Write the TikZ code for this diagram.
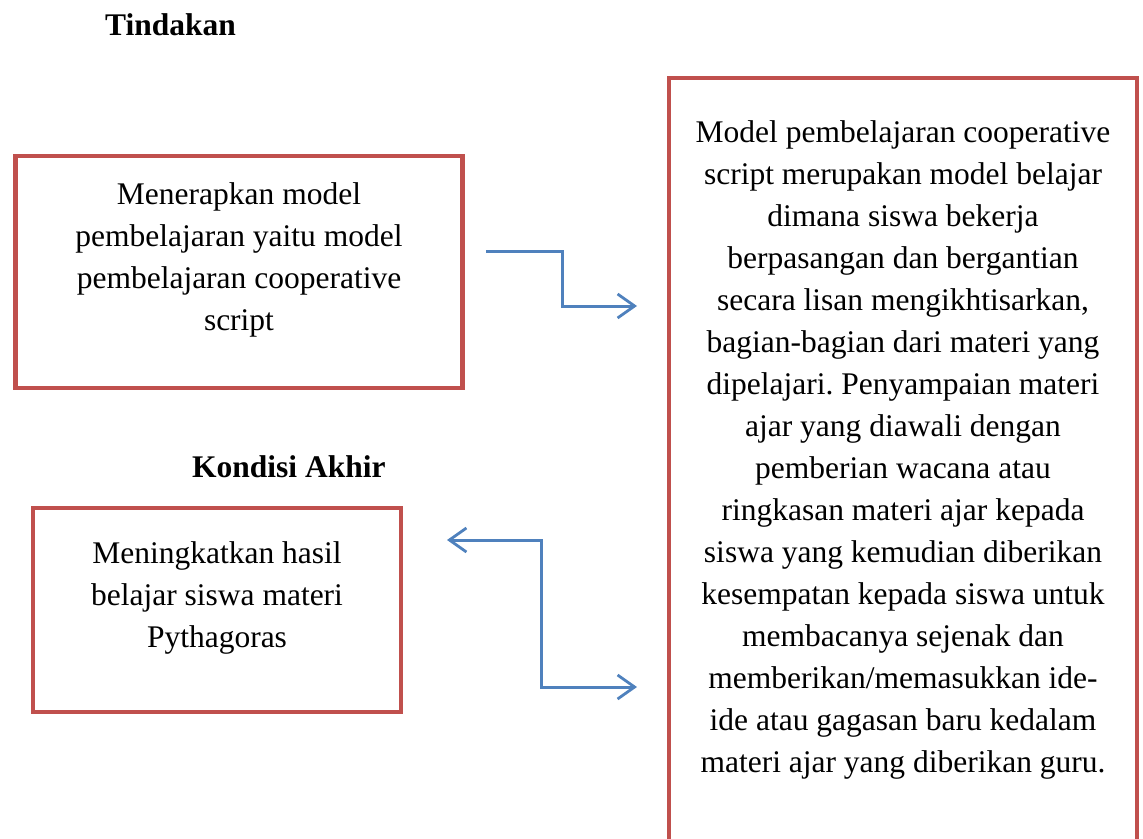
\documentclass[tikz,border=0pt]{standalone}
\usepackage{fontspec}
\setmainfont{Liberation Serif}
\usetikzlibrary{arrows.meta}
\definecolor{boxred}{HTML}{C0504D}
\definecolor{arrowblue}{HTML}{4F81BD}
\frenchspacing
\begin{document}
\begin{tikzpicture}[x=1pt,y=-1pt,
  redbox/.style={draw=boxred,line width=4.5pt,fill=none,inner sep=0pt,outer sep=0pt},
  bodytext/.style={align=center,inner sep=0pt,font=\fontsize{31.5}{42}\selectfont,anchor=base},
  headtext/.style={inner sep=0pt,font=\fontsize{31.5}{42}\selectfont\bfseries,anchor=base west},
  >={Straight Barb[length=17pt,width=24pt,line width=2.8pt]},
  link/.style={draw=arrowblue,line width=3pt}]
\clip (0,0) rectangle (1143,838);
% boxes
\node[redbox,minimum width=447pt,minimum height=232pt] (tindakan) at (239,272) {};
\node[redbox,minimum width=368pt,minimum height=204pt] (akhir) at (217,610) {};
\node[redbox,minimum width=468pt,minimum height=800pt] (model) at (903,478) {};
% headers
\node[headtext] (h1) at (105,35) {Tindakan};
\node[headtext] (h2) at (192,477) {Kondisi Akhir};
% texts (base anchor = baseline of last line)
\node[bodytext] (t1) at (239,330) {Menerapkan model\\pembelajaran yaitu model\\pembelajaran cooperative\\script};
\node[bodytext] (t3) at (217,647) {Meningkatkan hasil\\belajar siswa materi\\Pythagoras};
\node[bodytext] (t2) at (903,772) {Model pembelajaran cooperative\\script merupakan model belajar\\dimana siswa bekerja\\berpasangan dan bergantian\\secara lisan mengikhtisarkan,\\bagian-bagian dari materi yang\\dipelajari. Penyampaian materi\\ajar yang diawali dengan\\pemberian wacana atau\\ringkasan materi ajar kepada\\siswa yang kemudian diberikan\\kesempatan kepada siswa untuk\\membacanya sejenak dan\\memberikan/memasukkan ide-\\ide atau gagasan baru kedalam\\materi ajar yang diberikan guru.};
% connector end points
\coordinate (a1s) at (486,251);
\coordinate (a1e) at (637,306);
\coordinate (a2s) at (447,540);
\coordinate (a2e) at (637,687);
\draw[link,->] (a1s) -- (562,251) |- (a1e);
\draw[link,<->] (a2s) -- (541,540) |- (a2e);
\end{tikzpicture}
\end{document}
